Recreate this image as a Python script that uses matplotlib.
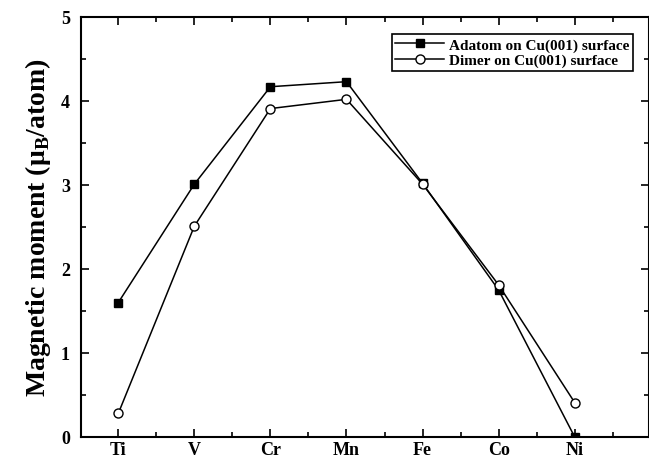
import numpy as np
import matplotlib
matplotlib.use("Agg")
import matplotlib.pyplot as plt
from matplotlib.ticker import MultipleLocator

plt.rcParams['font.family'] = 'Liberation Serif'
plt.rcParams['font.weight'] = 'bold'
plt.rcParams['mathtext.fontset'] = 'custom'
plt.rcParams['mathtext.rm'] = 'Liberation Serif:bold'
plt.rcParams['mathtext.bf'] = 'Liberation Serif:bold'

elements = ['Ti', 'V', 'Cr', 'Mn', 'Fe', 'Co', 'Ni']
adatom = [1.60, 3.01, 4.17, 4.23, 3.02, 1.75, 0.0]
dimer = [0.28, 2.51, 3.91, 4.02, 3.01, 1.81, 0.41]

fig = plt.figure(figsize=(6.49, 4.60), dpi=100)
ax = fig.add_axes([81/649, 22/460, 567.5/649, 420/460])

x = np.arange(len(elements))
ax.plot(x, adatom, 'k-', marker='s', ms=6, mfc='k', lw=1.1,
        label='Adatom on Cu(001) surface')
ax.plot(x, dimer, 'k-', marker='o', ms=6.5, mfc='white', mew=1.0, lw=1.1,
        label='Dimer on Cu(001) surface', clip_on=False)

ax.set_xlim(-0.49, 6.97)
ax.set_ylim(0, 5)
ax.set_xticks(x)
ax.set_xticklabels(elements)
ax.xaxis.set_minor_locator(MultipleLocator(0.5))
ax.yaxis.set_major_locator(MultipleLocator(1))
ax.yaxis.set_minor_locator(MultipleLocator(0.5))
ax.tick_params(which='both', direction='in', top=True, right=True, width=1.2)
ax.tick_params(which='major', length=6, labelsize=13)
ax.tick_params(axis='x', pad=3)
ax.tick_params(axis='y', pad=8)
ax.tick_params(which='minor', length=3.5)
for lab in ax.get_xticklabels() + ax.get_yticklabels():
    lab.set_fontweight('bold')
for sp in ax.spines.values():
    sp.set_linewidth(1.5)

ax.set_ylabel('Magnetic moment (μ$_{\\mathbf{B}}$/atom)', fontsize=20,
              fontweight='bold', labelpad=6)

leg = ax.legend(loc='upper right', bbox_to_anchor=(633/649, 1 - 35/460),
                bbox_transform=fig.transFigure,
                fontsize=11, frameon=True, fancybox=False, edgecolor='k',
                framealpha=1, handlelength=3.2, borderpad=0.25,
                labelspacing=0.12, handletextpad=0.3, borderaxespad=0)
leg.get_frame().set_linewidth(1.2)
for t in leg.get_texts():
    t.set_fontweight('bold')

fig.savefig('out.png', dpi=100)
